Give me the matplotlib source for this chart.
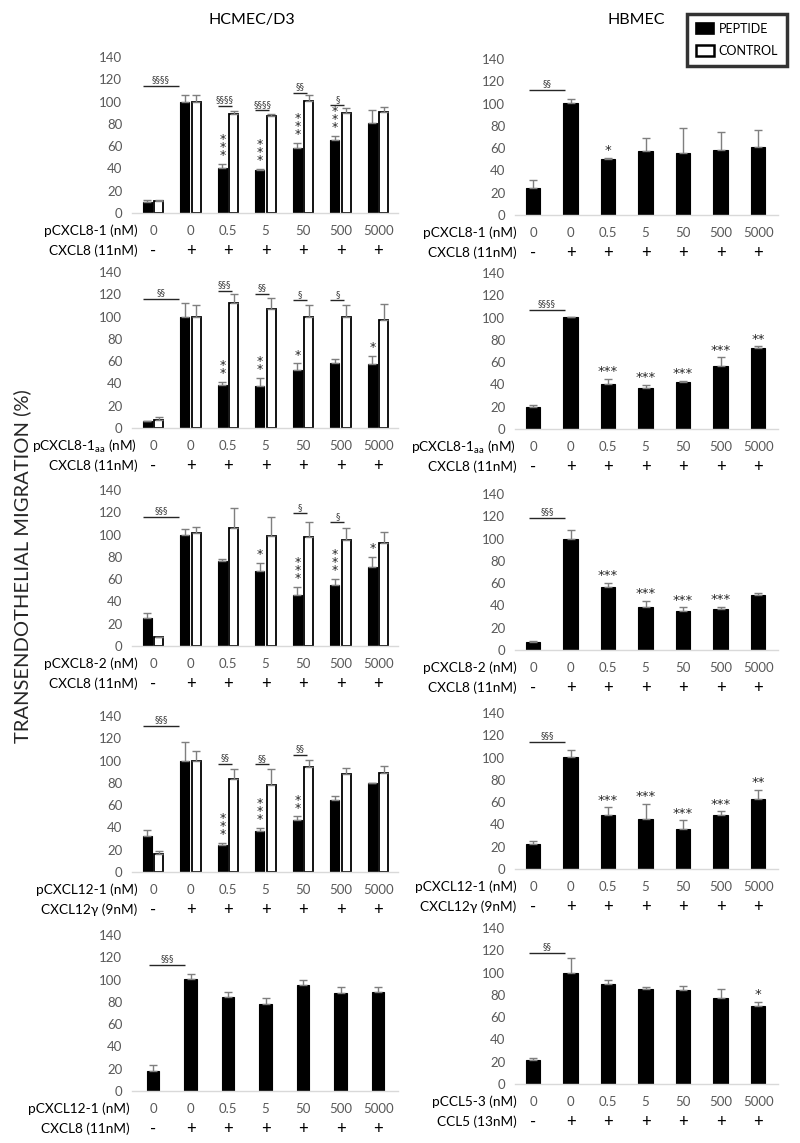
import numpy as np
import matplotlib
matplotlib.use("Agg")
import matplotlib.pyplot as plt
from matplotlib.patches import Patch

plt.rcParams['font.family'] = ['Lato', 'DejaVu Sans']

# ---------------- data ----------------
doses = ['0', '0', '0.5', '5', '50', '500', '5000']
stim = ['-', '+', '+', '+', '+', '+', '+']
yticks = [0, 20, 40, 60, 80, 100, 120, 140]

# HCMEC/D3 panels (peptide / control, mean and upper error)
hc_p81_pep = [10, 100, 40, 38.5, 58, 65.5, 81]
hc_p81_pep_err = [2, 6, 4, 1, 5, 4, 11]
hc_p81_ctl = [11, 100, 88.5, 87.5, 100.5, 89.5, 91]
hc_p81_ctl_err = [1, 6, 3, 1, 5, 5, 4]

hc_p81aa_pep = [6, 100, 39, 37.5, 52, 58.5, 57]
hc_p81aa_pep_err = [0.5, 12, 2.5, 7.5, 6, 3, 8]
hc_p81aa_ctl = [7.5, 100, 112, 106.5, 100, 100, 97]
hc_p81aa_ctl_err = [2, 10, 8, 10.5, 10, 10, 14]

hc_p82_pep = [25, 100, 76, 67, 46, 55, 71]
hc_p82_pep_err = [5, 5, 2, 7.5, 7, 5.5, 9]
hc_p82_ctl = [8, 101, 106, 98.5, 97.5, 95, 92.5]
hc_p82_ctl_err = [0.5, 6, 18, 17.5, 14, 11, 9.5]

hc_p121_g_pep = [32, 100, 24, 37, 47, 65, 79.5]
hc_p121_g_pep_err = [6, 17, 2, 2.5, 3, 3, 0.5]
hc_p121_g_ctl = [16.5, 100, 83.5, 78, 94, 88, 89]
hc_p121_g_ctl_err = [2.5, 9, 9, 14, 6.5, 5.5, 6.5]

hc_p121_8_pep = [18, 100.5, 84.5, 78, 95, 88, 89]
hc_p121_8_pep_err = [5, 4.5, 4.5, 5.3, 4.7, 5, 4.7]

# HBMEC panels (peptide only)
hb_p81_pep = [23.8, 100.4, 50.6, 57, 55.7, 58.7, 61.4]
hb_p81_pep_err = [7.5, 4, 1, 12, 22, 16, 15]

hb_p81aa_pep = [19.4, 100.5, 40.7, 36.8, 42.2, 56.2, 72.7]
hb_p81aa_pep_err = [2, 0, 4.5, 3, 1, 8, 1.5]

hb_p82_pep = [7.5, 100, 56.6, 38.2, 35.2, 37, 49]
hb_p82_pep_err = [0.6, 8, 3.6, 6, 3.3, 2, 2]

hb_p121_pep = [22.7, 100.5, 48.8, 44.9, 35.9, 48.8, 63.1]
hb_p121_pep_err = [2, 6.5, 6.5, 13.5, 8, 3, 8]

hb_ccl53_pep = [21.7, 99.2, 89.4, 85.5, 84, 77.5, 70]
hb_ccl53_pep_err = [2, 13.7, 4, 2, 3.6, 7.5, 4]

# row labels
lab_p81 = ('pCXCL8-1 (nM)', 'CXCL8 (11nM)')
lab_p81aa = ('pCXCL8-1$_{\\mathregular{aa}}$ (nM)', 'CXCL8 (11nM)')
lab_p82 = ('pCXCL8-2 (nM)', 'CXCL8 (11nM)')
lab_p121_g = ('pCXCL12-1 (nM)', 'CXCL12\u03b3 (9nM)')
lab_p121_8 = ('pCXCL12-1 (nM)', 'CXCL8 (11nM)')
lab_ccl53 = ('pCCL5-3 (nM)', 'CCL5 (13nM)')

# significance: (group or 'ref', symbol, line height)
sig_hc1 = [('ref', '§§§§', 114), (2, '§§§§', 96), (3, '§§§§', 92), (4, '§§', 108), (5, '§', 96.5)]
sig_hc2 = [('ref', '§§', 116), (2, '§§§', 123), (3, '§§', 120), (4, '§', 114.5), (5, '§', 114.5)]
sig_hc3 = [('ref', '§§§', 116), (4, '§', 119), (5, '§', 111)]
sig_hc4 = [('ref', '§§§', 131), (2, '§§', 97), (3, '§§', 96.5), (4, '§§', 105)]
sig_hc5 = [('ref', '§§§', 113)]
sig_hb1 = [('ref', '§§', 112)]
sig_hb2 = [('ref', '§§§§', 107)]
sig_hb3 = [('ref', '§§§', 118.5)]
sig_hb4 = [('ref', '§§§', 114)]
sig_hb5 = [('ref', '§§', 118)]

stars_hc1 = [(2, 3), (3, 3), (4, 3), (5, 3)]
stars_hc2 = [(2, 2), (3, 2), (4, 1), (6, 1)]
stars_hc3 = [(3, 1), (4, 3), (5, 3), (6, 1)]
stars_hc4 = [(2, 3), (3, 3), (4, 2)]
stars_hc5 = []
stars_hb1 = [(2, 1)]
stars_hb2 = [(2, 3), (3, 3), (4, 3), (5, 3), (6, 2)]
stars_hb3 = [(2, 3), (3, 3), (4, 3), (5, 3)]
stars_hb4 = [(2, 3), (3, 3), (4, 3), (5, 3), (6, 2)]
stars_hb5 = [(6, 1)]

# ---------------- figure ----------------
W, H = 800, 1143
fig = plt.figure(figsize=(W / 100, H / 100), dpi=100)
PT = 0.72  # points per pixel

TICK_GRAY = '#595959'


def make_axes(x0, x1, y0):
    # y0 = pixel row of the zero line (from top)
    return fig.add_axes([x0 / W, (H - y0) / H, (x1 - x0) / W, 156 / H])


def draw_panel(ax, pep, pep_err, ctl, ctl_err, labels, sigs, stars, side, wide, lab_x):
    x = np.arange(len(doses))
    pep = np.array(pep, float)
    pep_err = np.array(pep_err, float)
    zeros = np.zeros(len(x))
    ekw = dict(fmt='none', ecolor='#7f7f7f', elinewidth=1.0, capsize=3, capthick=1.0)
    if ctl is not None:
        ctl = np.array(ctl, float)
        ctl_err = np.array(ctl_err, float)
        xp, xc = x - 0.15, x + 0.15
        ax.bar(xp, pep, 0.24, color='black', edgecolor='black', lw=0.8, zorder=2)
        ax.bar(xc, ctl, 0.24, color='white', edgecolor='black', lw=1.3, zorder=2)
        ax.errorbar(xp, pep, yerr=[zeros, pep_err], zorder=3, **ekw)
        ax.errorbar(xc, ctl, yerr=[zeros, ctl_err], zorder=3, **ekw)
        xstar = xp
    else:
        ax.bar(x, pep, wide, color='black', edgecolor='black', lw=0.8, zorder=2)
        ax.errorbar(x, pep, yerr=[zeros, pep_err], zorder=3, **ekw)
        xstar = x

    # stars
    for g, n in stars:
        top = pep[g] + pep_err[g]
        if side == 'L':
            ax.text(xstar[g], top + 1.5, '\n'.join(['*'] * n), ha='center', va='bottom',
                    fontsize=9, linespacing=0.5, color='#262626', family='DejaVu Sans')
        else:
            ax.text(xstar[g], top + 0.5, '*' * n, ha='center', va='bottom',
                    fontsize=9.5, color='#262626', family='DejaVu Sans')

    # significance lines
    for g, sym, yl in sigs:
        if g == 'ref':
            if side == 'L' and ctl is not None:
                a, b = -0.27, 0.7
            else:
                a, b = -0.12, 0.86
        else:
            a, b = g - 0.27, g + 0.1
        ax.plot([a, b], [yl, yl], color='#262626', lw=1.0, solid_capstyle='butt', clip_on=False)
        ax.text((a + b) / 2, yl + 1.5, sym, ha='center', va='bottom', fontsize=6.5,
                color='#404040', family='DejaVu Sans')

    ax.set_ylim(0, 140)
    ax.set_yticks(yticks)
    ax.set_xticks([])
    for s in ('top', 'left', 'right'):
        ax.spines[s].set_visible(False)
    ax.spines['bottom'].set_color('#d9d9d9')
    ax.spines['bottom'].set_linewidth(1.0)
    ax.tick_params(axis='y', length=0, pad=7, labelsize=9.5, labelcolor=TICK_GRAY)
    ax.set_facecolor('none')

    # category rows
    for i in range(len(doses)):
        ax.annotate(doses[i], xy=(x[i], 0), xycoords=('data', 'axes fraction'),
                    xytext=(0, -18 * PT), textcoords='offset points', ha='center', va='center',
                    fontsize=9.5, color=TICK_GRAY, annotation_clip=False)
        ax.annotate(stim[i], xy=(x[i], 0), xycoords=('data', 'axes fraction'),
                    xytext=(0, -38 * PT), textcoords='offset points', ha='center', va='center',
                    fontsize=12, color='black', annotation_clip=False)
    ax.annotate(labels[0], xy=(lab_x, 0), xycoords='axes fraction', xytext=(0, -18 * PT),
                textcoords='offset points', ha='right', va='center', fontsize=9.8, color='black',
                annotation_clip=False)
    ax.annotate(labels[1], xy=(lab_x, 0), xycoords='axes fraction', xytext=(0, -38 * PT),
                textcoords='offset points', ha='right', va='center', fontsize=9.8, color='black',
                annotation_clip=False)


LX0, LX1 = 132, 398
RX0, RX1 = 515, 778
L_XLIM = (-0.56, 6.53)
R_XLIM = (-0.48, 6.53)

left_specs = [
    (213, hc_p81_pep, hc_p81_pep_err, hc_p81_ctl, hc_p81_ctl_err, lab_p81, sig_hc1, stars_hc1, 0.02),
    (428, hc_p81aa_pep, hc_p81aa_pep_err, hc_p81aa_ctl, hc_p81aa_ctl_err, lab_p81aa, sig_hc2, stars_hc2, 0.02),
    (646, hc_p82_pep, hc_p82_pep_err, hc_p82_ctl, hc_p82_ctl_err, lab_p82, sig_hc3, stars_hc3, 0.02),
    (872, hc_p121_g_pep, hc_p121_g_pep_err, hc_p121_g_ctl, hc_p121_g_ctl_err, lab_p121_g, sig_hc4, stars_hc4, 0.02),
    (1091, hc_p121_8_pep, hc_p121_8_pep_err, None, None, lab_p121_8, sig_hc5, stars_hc5, -0.01),
]
right_specs = [
    (215, hb_p81_pep, hb_p81_pep_err, lab_p81, sig_hb1, stars_hb1),
    (429, hb_p81aa_pep, hb_p81aa_pep_err, lab_p81aa, sig_hb2, stars_hb2),
    (650, hb_p82_pep, hb_p82_pep_err, lab_p82, sig_hb3, stars_hb3),
    (869, hb_p121_pep, hb_p121_pep_err, lab_p121_g, sig_hb4, stars_hb4),
    (1084, hb_ccl53_pep, hb_ccl53_pep_err, lab_ccl53, sig_hb5, stars_hb5),
]

for y0, pep, pe, ctl, ce, lab, sg, st, lx in left_specs:
    ax = make_axes(LX0, LX1, y0)
    ax.set_xlim(*L_XLIM)
    draw_panel(ax, pep, pe, ctl, ce, lab, sg, st, 'L', 0.34, lx)

for y0, pep, pe, lab, sg, st in right_specs:
    ax = make_axes(RX0, RX1, y0)
    ax.set_xlim(*R_XLIM)
    draw_panel(ax, pep, pe, None, None, lab, sg, st, 'R', 0.38, 0.005)

# headers
fig.text(252 / W, 1 - 20 / H, 'HCMEC/D3', ha='center', va='center', fontsize=11.5, color='black')
fig.text(636 / W, 1 - 20 / H, 'HBMEC', ha='center', va='center', fontsize=11.5, color='black')

# y label
fig.text(22 / W, 1 - 566 / H, 'TRANSENDOTHELIAL MIGRATION (%)', rotation=90, ha='center',
         va='center', fontsize=14.5, color='#262626')

# legend
handles = [Patch(facecolor='black', edgecolor='black', lw=1.2),
           Patch(facecolor='white', edgecolor='black', lw=1.8)]
leg = fig.legend(handles, ['PEPTIDE', 'CONTROL'], loc='upper right',
                 bbox_to_anchor=(787 / W, 1 - 14 / H), borderaxespad=0, frameon=True,
                 fancybox=False, fontsize=9, handlelength=1.45, handleheight=1.05,
                 handletextpad=0.4, borderpad=0.7, labelspacing=0.8)
leg.get_frame().set_edgecolor('black')
leg.get_frame().set_linewidth(2.5)

fig.savefig('out.png', dpi=100)
